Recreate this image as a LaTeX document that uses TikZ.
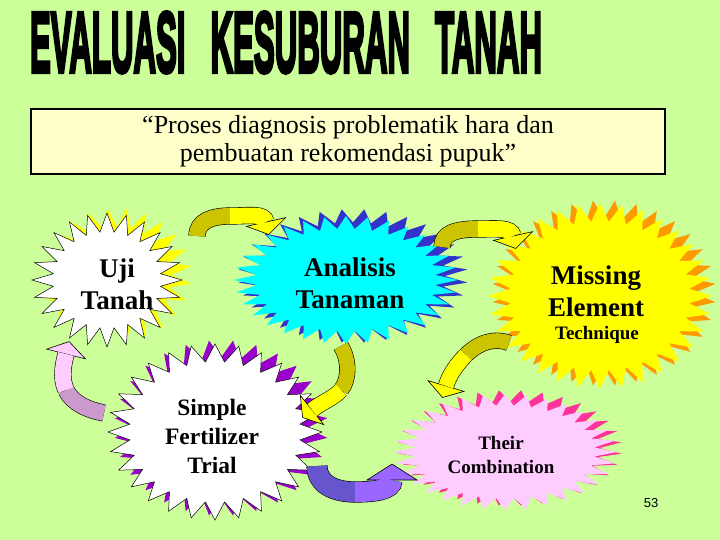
\documentclass[tikz,border=0pt]{standalone}
\usepackage{fontspec}
\usepackage{graphicx}
\usepackage{tikz}
\usetikzlibrary{calc}
\setmainfont{Liberation Serif}
\newfontfamily\titlefont[FakeBold=5]{Liberation Sans}
\newfontfamily\pagefont{Liberation Sans}

\definecolor{bg}{HTML}{CCFF99}
\definecolor{quotefill}{HTML}{FFFFCC}
\definecolor{olivy}{HTML}{CCC400}
\definecolor{sunny}{HTML}{FFFF00}
\definecolor{cyanish}{HTML}{00FFFF}
\definecolor{bluish}{HTML}{3333CC}
\definecolor{orangy}{HTML}{FF9900}
\definecolor{purp}{HTML}{9900CC}
\definecolor{pinky}{HTML}{FFCCFF}
\definecolor{magent}{HTML}{FF3399}
\definecolor{violetdark}{HTML}{6655CC}
\definecolor{violetlight}{HTML}{9966FF}
\definecolor{lavender}{HTML}{CC99CC}

% bintang: gaya, cx, cy, rx, ry, rasio dalam, jumlah titik, rotasi
\newcommand{\spikes}[8]{%
  \pgfmathtruncatemacro{\lastv}{2*#7-1}%
  \path[#1] plot[samples at={0,...,\lastv}]
    ({#2+(1-(1-#6)*mod(\x,2))*#4*cos(\x*180/#7+#8)},
     {#3+(1-(1-#6)*mod(\x,2))*#5*sin(\x*180/#7+#8)}) -- cycle;
}

% panah lengkung: [lebar] paruh1, paruh2, kontrol akhir, ujung, warna gelap, warna terang
\newcommand{\bendarrow}[7][16]{%
  \pgfmathsetmacro{\headw}{1.25*#1}%
  \pgfmathsetmacro{\headl}{-0.8*#1}%
  \draw[line width=#1pt+1.2pt] #2 #3;
  \filldraw[fill=#7, line width=0.6pt, line join=miter]
    ($(#5)!\headl pt!(#4)$) -- ($(#5)!\headw pt!90:(#4)$) -- ($(#5)!\headw pt!-90:(#4)$) -- cycle;
  \draw[#6, line width=#1pt] #2;
  \draw[#7, line width=#1pt] #3;
}

\tikzset{
  label/.style={align=center, inner sep=0pt},
  bigbold/.style={label, font=\fontsize{27}{32}\selectfont\bfseries},
}

\begin{document}
\begin{tikzpicture}[x=1pt,y=-1pt]
% latar
\fill[bg] (0,0) rectangle (720,540);
\useasboundingbox (0,0) rectangle (720,540);

% judul
\node[inner sep=0pt] (title) at (286,42.5)
  {\resizebox{512pt}{60pt}{\titlefont\bfseries EVALUASI\hspace{0.8em}KESUBURAN\hspace{0.8em}TANAH}};

% kotak definisi
\node[draw, line width=2pt, fill=quotefill, minimum width=634pt, minimum height=65pt,
      align=center, font=\fontsize{26}{28}\selectfont] (quote) at (348,141.5)
  {“Proses diagnosis problematik hara dan\\pembuatan rekomendasi pupuk”};

% bintang (bayangan dulu, lalu depan)
\spikes{fill=sunny}{117}{275}{75}{67}{0.72}{24}{7.5}
\spikes{fill=white, draw=black, line width=0.5pt}{107}{280}{75}{67}{0.72}{24}{0}

\spikes{fill=bluish}{353}{276}{115}{67}{0.8}{32}{5.625}
\spikes{fill=cyanish}{346}{280}{112}{64}{0.8}{32}{0}

\spikes{fill=orangy}{604}{293}{112}{93}{0.8}{32}{5.625}
\spikes{fill=sunny}{600}{296}{112}{93}{0.8}{32}{0}

\spikes{fill=purp}{221}{428}{107}{88}{0.8}{28}{6.43}
\spikes{fill=white, draw=black, line width=0.5pt}{215}{432}{107}{88}{0.8}{28}{0}

\spikes{fill=magent}{510}{448}{112}{58}{0.8}{32}{5.625}
\spikes{fill=pinky}{505}{452}{112}{58}{0.8}{32}{0}

% titik panah
\coordinate (ua-s) at (197,236); \coordinate (ua-m) at (230,216);
\coordinate (ua-c) at (264,213); \coordinate (ua-e) at (266,222);
\coordinate (am-s) at (442,247); \coordinate (am-m) at (478,229);
\coordinate (am-c) at (511,227); \coordinate (am-e) at (513,236);
\coordinate (mc-s) at (509,343); \coordinate (mc-m) at (466,355);
\coordinate (mc-c) at (449,376); \coordinate (mc-e) at (446,386);
\coordinate (as-s) at (341,346); \coordinate (as-m) at (341,390);
\coordinate (as-c) at (322,402); \coordinate (as-e) at (312,410);
\coordinate (sc-s) at (317,466); \coordinate (sc-m) at (355,492);
\coordinate (sc-c) at (392,490); \coordinate (sc-e) at (392,480);
\coordinate (su-s) at (104,413); \coordinate (su-m) at (66,390);
\coordinate (su-c) at (64,362);  \coordinate (su-e) at (66,354);

% panah
\bendarrow{(ua-s) .. controls (197,221) and (212,216) .. (ua-m)}
          {(ua-m) .. controls (250,216) and (ua-c) .. (ua-e)}{ua-c}{ua-e}{olivy}{sunny}
\bendarrow{(am-s) .. controls (442,233) and (456,229) .. (am-m)}
          {(am-m) .. controls (496,229) and (am-c) .. (am-e)}{am-c}{am-e}{olivy}{sunny}
\bendarrow[15]{(mc-s) .. controls (494,337) and (478,343) .. (mc-m)}
          {(mc-m) .. controls (455,366) and (mc-c) .. (mc-e)}{mc-c}{mc-e}{olivy}{sunny}
\bendarrow[15]{(as-s) .. controls (349,360) and (350,378) .. (as-m)}
          {(as-m) .. controls (334,398) and (as-c) .. (as-e)}{as-c}{as-e}{olivy}{sunny}
\bendarrow[20]{(sc-s) .. controls (317,484) and (334,492) .. (sc-m)}
          {(sc-m) .. controls (374,492) and (sc-c) .. (sc-e)}{sc-c}{sc-e}{violetdark}{violetlight}
\bendarrow{(su-s) .. controls (88,410) and (72,403) .. (su-m)}
          {(su-m) .. controls (60,377) and (su-c) .. (su-e)}{su-c}{su-e}{lavender}{pinky}

% teks
\node[bigbold] (uji) at (117,284) {Uji\\Tanah};
\node[bigbold] (analisis) at (350,283) {Analisis\\Tanaman};
\node[bigbold] (missing) at (596,291) {Missing\\Element};
\node[label, font=\fontsize{19}{22}\selectfont\bfseries] (technique) at (597,335) {Technique};
\node[label, font=\fontsize{23.5}{29}\selectfont\bfseries] (simple) at (212,436) {Simple\\Fertilizer\\Trial};
\node[label, font=\fontsize{19}{24}\selectfont\bfseries] (their) at (501,455) {Their\\Combination};
\node[label, font=\fontsize{13}{15}\selectfont\pagefont] (page) at (651,503) {53};

\end{tikzpicture}
\end{document}
